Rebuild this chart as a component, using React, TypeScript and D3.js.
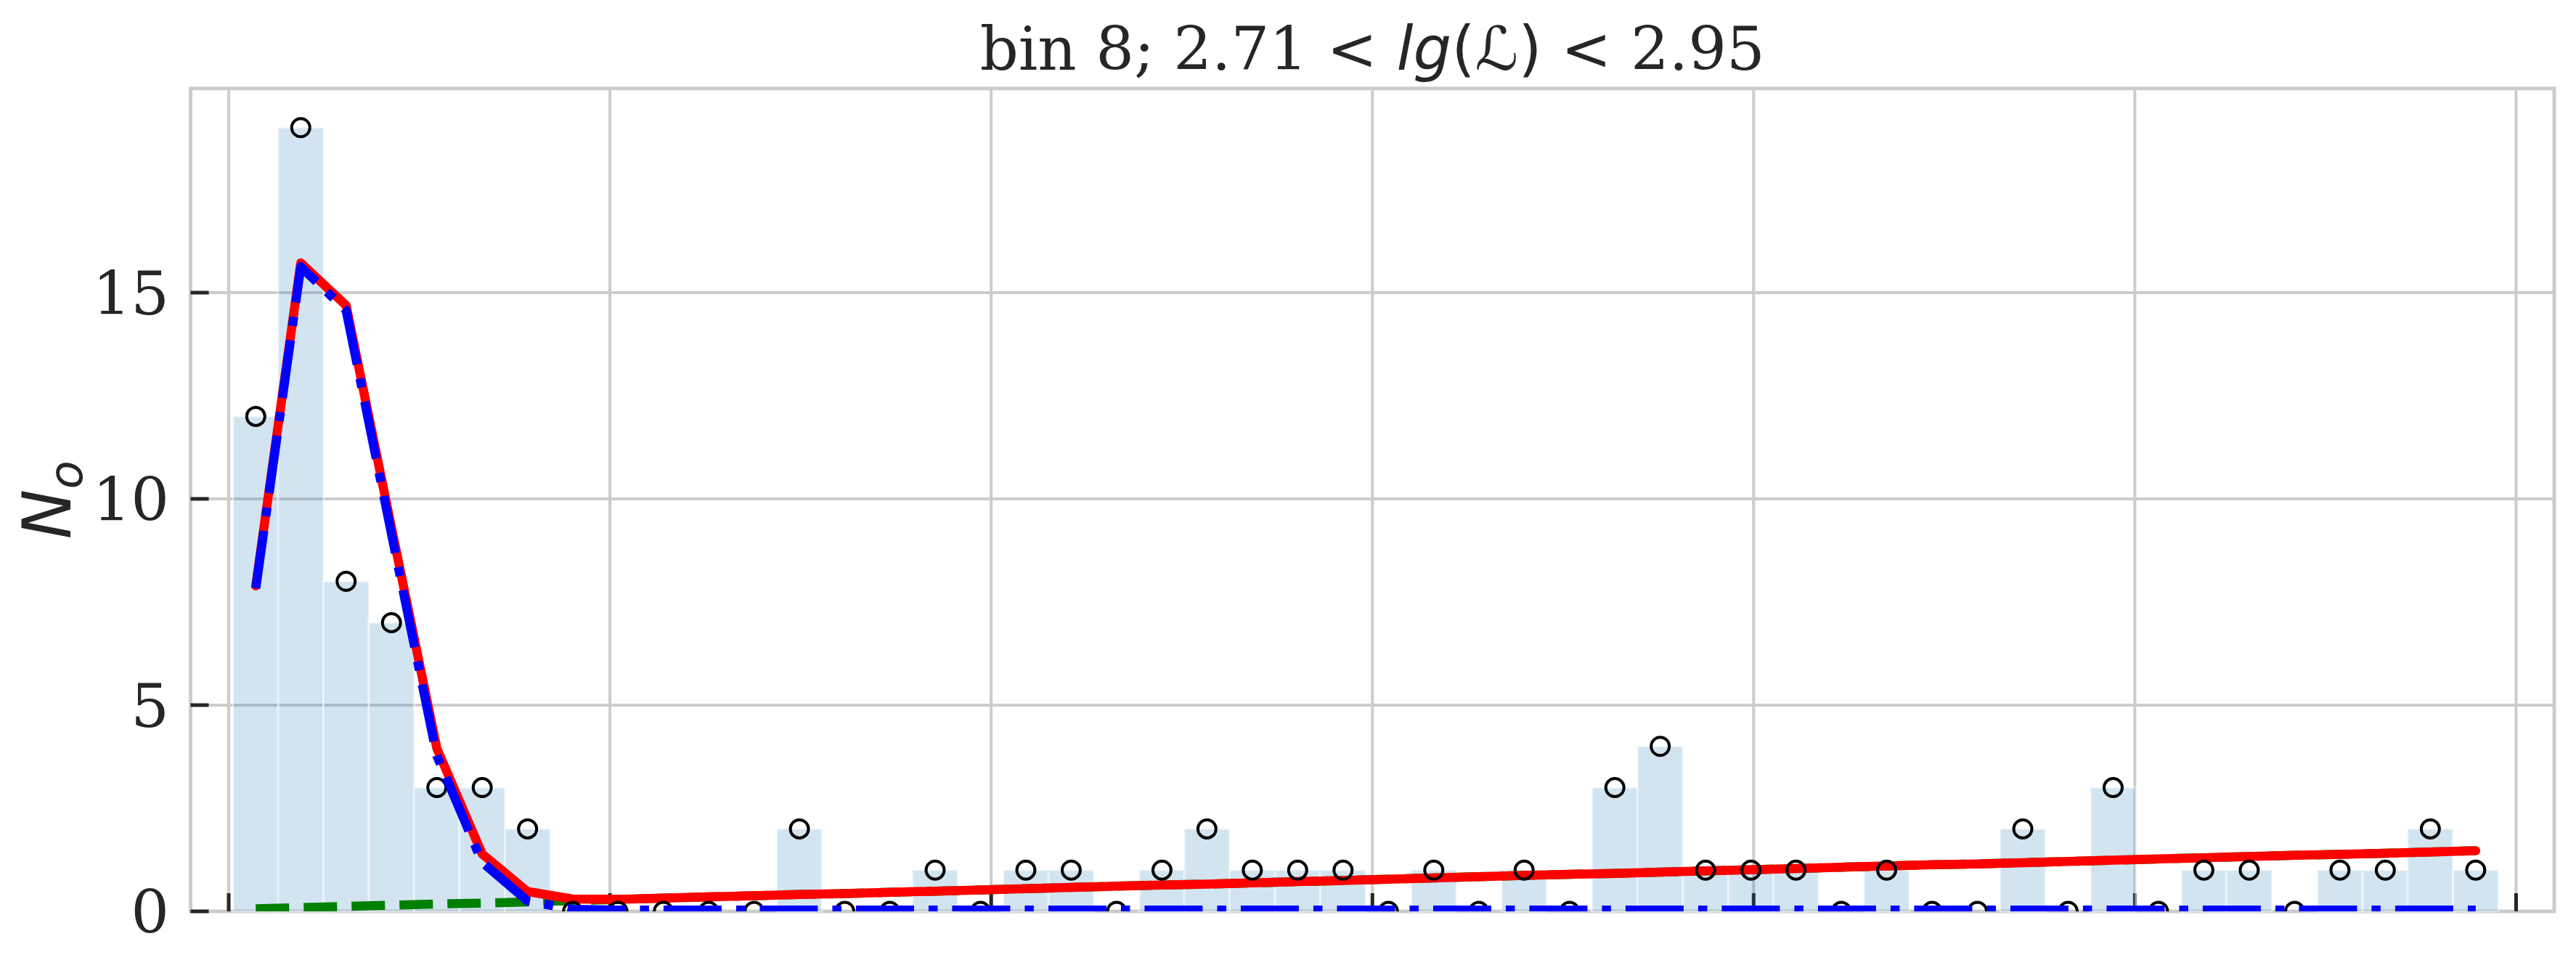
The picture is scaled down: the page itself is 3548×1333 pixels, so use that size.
import React from 'react';
import * as d3 from 'd3';

// ---- data ----
const binCenters = [
  0.071, 0.189, 0.308, 0.427, 0.546, 0.665, 0.784, 0.902, 1.021, 1.14,
  1.259, 1.378, 1.497, 1.616, 1.734, 1.853, 1.972, 2.091, 2.21, 2.329,
  2.448, 2.566, 2.685, 2.804, 2.923, 3.042, 3.161, 3.279, 3.398, 3.517,
  3.636, 3.755, 3.874, 3.993, 4.111, 4.23, 4.349, 4.468, 4.587, 4.706,
  4.825, 4.943, 5.062, 5.181, 5.3, 5.419, 5.538, 5.657, 5.775, 5.894,
];
const binWidth = 0.11885;

const observed = [
  12, 19, 8, 7, 3, 3, 2, 0, 0, 0,
  0, 0, 2, 0, 0, 1, 0, 1, 1, 0,
  1, 2, 1, 1, 1, 0, 1, 0, 1, 0,
  3, 4, 1, 1, 1, 0, 1, 0, 0, 2,
  0, 3, 0, 1, 1, 0, 1, 1, 2, 1,
];

const backgroundModel = [
  0.06, 0.09, 0.12, 0.15, 0.18, 0.2, 0.23, 0.26, 0.29, 0.32,
  0.35, 0.38, 0.41, 0.43, 0.46, 0.49, 0.52, 0.55, 0.58, 0.61,
  0.64, 0.66, 0.69, 0.72, 0.75, 0.78, 0.81, 0.84, 0.87, 0.9,
  0.92, 0.95, 0.98, 1.01, 1.04, 1.07, 1.1, 1.13, 1.15, 1.18,
  1.21, 1.24, 1.27, 1.3, 1.33, 1.36, 1.38, 1.41, 1.44, 1.47,
];

const signalModel = [
  7.83, 15.63, 14.57, 9.15, 3.77, 1.19, 0.25, 0.05, 0.03, 0.03,
  0.03, 0.03, 0.03, 0.03, 0.03, 0.03, 0.03, 0.03, 0.03, 0.03,
  0.03, 0.03, 0.03, 0.03, 0.03, 0.03, 0.03, 0.03, 0.03, 0.03,
  0.03, 0.03, 0.03, 0.03, 0.03, 0.03, 0.03, 0.03, 0.03, 0.03,
  0.03, 0.03, 0.03, 0.03, 0.03, 0.03, 0.03, 0.03, 0.03, 0.03,
];

const totalModel = [
  7.89, 15.72, 14.69, 9.3, 3.95, 1.39, 0.48, 0.3, 0.29, 0.32,
  0.35, 0.38, 0.41, 0.43, 0.46, 0.49, 0.52, 0.55, 0.58, 0.61,
  0.64, 0.66, 0.69, 0.72, 0.75, 0.78, 0.81, 0.84, 0.87, 0.9,
  0.92, 0.95, 0.98, 1.01, 1.04, 1.07, 1.1, 1.13, 1.15, 1.18,
  1.21, 1.24, 1.27, 1.3, 1.33, 1.36, 1.38, 1.41, 1.44, 1.47,
];

const xTicks = [0, 1, 2, 3, 4, 5, 6];
const yTicks = [0, 5, 10, 15];
const xDomain = [-0.1, 6.1];
const yDomain = [0, 19.95];

// ---- layout ----
const W = 3548;
const H = 1333;
const PLOT = { left: 262.5, right: 3518, top: 121.8, bottom: 1255 };
const SERIF = '"DejaVu Serif", serif';
const SANS = '"DejaVu Sans", sans-serif';
const TEXT = '#262626';
const GRID = '#cccccc';

export default function App() {
  const x = d3.scaleLinear().domain(xDomain).range([PLOT.left, PLOT.right]);
  const y = d3.scaleLinear().domain(yDomain).range([PLOT.bottom, PLOT.top]);

  const mkLine = (vals: number[]) =>
    d3
      .line<number>()
      .x((_, i) => x(binCenters[i]))
      .y((v) => y(v))(vals) || '';

  const lw = 12.5;

  return (
    <svg
      width={W}
      height={H}
      style={{ position: 'absolute', left: 0, top: 0, background: '#fff' }}
      xmlns="http://www.w3.org/2000/svg"
    >
      <defs>
        <clipPath id="plotClip">
          <rect
            x={PLOT.left}
            y={PLOT.top}
            width={PLOT.right - PLOT.left}
            height={PLOT.bottom - PLOT.top}
          />
        </clipPath>
      </defs>
      <rect x={0} y={0} width={W} height={H} fill="#fff" />

      {/* grid */}
      <g stroke={GRID} strokeWidth={4}>
        {yTicks.map((t) => (
          <line key={'gy' + t} x1={PLOT.left} x2={PLOT.right} y1={y(t)} y2={y(t)} />
        ))}
        {xTicks.map((t) => (
          <line key={'gx' + t} x1={x(t)} x2={x(t)} y1={PLOT.top} y2={PLOT.bottom} />
        ))}
      </g>

      {/* frame */}
      <rect
        x={PLOT.left}
        y={PLOT.top}
        width={PLOT.right - PLOT.left}
        height={PLOT.bottom - PLOT.top}
        fill="none"
        stroke={GRID}
        strokeWidth={5}
      />

      {/* ticks (inward) */}
      <g stroke={TEXT} strokeWidth={5}>
        {yTicks.map((t) => (
          <line key={'ty' + t} x1={PLOT.left} x2={PLOT.left + 25} y1={y(t)} y2={y(t)} />
        ))}
        {xTicks.map((t) => (
          <line key={'tx' + t} x1={x(t)} x2={x(t)} y1={PLOT.bottom} y2={PLOT.bottom - 25} />
        ))}
      </g>

      {/* histogram bars */}
      <g>
        {observed.map((v, i) =>
          v > 0 ? (
            <rect
              key={'b' + i}
              x={x(binCenters[i] - binWidth / 2)}
              width={x(binCenters[i] + binWidth / 2) - x(binCenters[i] - binWidth / 2)}
              y={y(v)}
              height={y(0) - y(v)}
              fill="#1f77b4"
              fillOpacity={0.2}
              stroke="#ffffff"
              strokeOpacity={0.45}
              strokeWidth={3}
            />
          ) : null
        )}
      </g>

      <g clipPath="url(#plotClip)">
        {/* background model */}
        <path
          d={mkLine(backgroundModel)}
          fill="none"
          stroke="#008000"
          strokeWidth={lw}
          strokeDasharray="46 20"
          strokeLinejoin="round"
        />
        {/* total model */}
        <path
          d={mkLine(totalModel)}
          fill="none"
          stroke="#ff0000"
          strokeWidth={lw}
          strokeLinejoin="round"
          strokeLinecap="round"
        />
        {/* observed points */}
        {observed.map((v, i) => (
          <circle
            key={'c' + i}
            cx={x(binCenters[i])}
            cy={y(v)}
            r={12.5}
            fill="none"
            stroke="#000"
            strokeWidth={4}
          />
        ))}
        {/* signal model */}
        <path
          d={mkLine(signalModel)}
          fill="none"
          stroke="#0000ff"
          strokeWidth={lw}
          strokeDasharray="80 20 12.5 20"
          strokeLinejoin="round"
        />
      </g>

      {/* y tick labels */}
      <g fontFamily={SERIF} fontSize={83} fill={TEXT} textAnchor="end">
        {yTicks.map((t) => (
          <text key={'yl' + t} x={233} y={y(t) + 30}>
            {t}
          </text>
        ))}
      </g>

      {/* y label */}
      <text
        transform={`translate(97, ${(PLOT.top + PLOT.bottom) / 2}) rotate(-90)`}
        textAnchor="middle"
        fill={TEXT}
        fontFamily={SANS}
        fontStyle="italic"
        fontSize={92}
      >
        <tspan>N</tspan>
        <tspan fontSize={64} dy={16}>o</tspan>
      </text>

      {/* title */}
      <text x={(PLOT.left + PLOT.right) / 2} y={96} textAnchor="middle" fill={TEXT} fontSize={83}>
        <tspan fontFamily={SERIF}>{'bin 8; 2.71 < '}</tspan>
        <tspan fontFamily={SANS} fontStyle="italic">lg</tspan>
        <tspan fontFamily={SANS}>(</tspan>
        <tspan fontFamily={SANS} fontStyle="italic">{'\u2112'}</tspan>
        <tspan fontFamily={SANS}>)</tspan>
        <tspan fontFamily={SERIF}>{' < 2.95'}</tspan>
      </text>
    </svg>
  );
}
